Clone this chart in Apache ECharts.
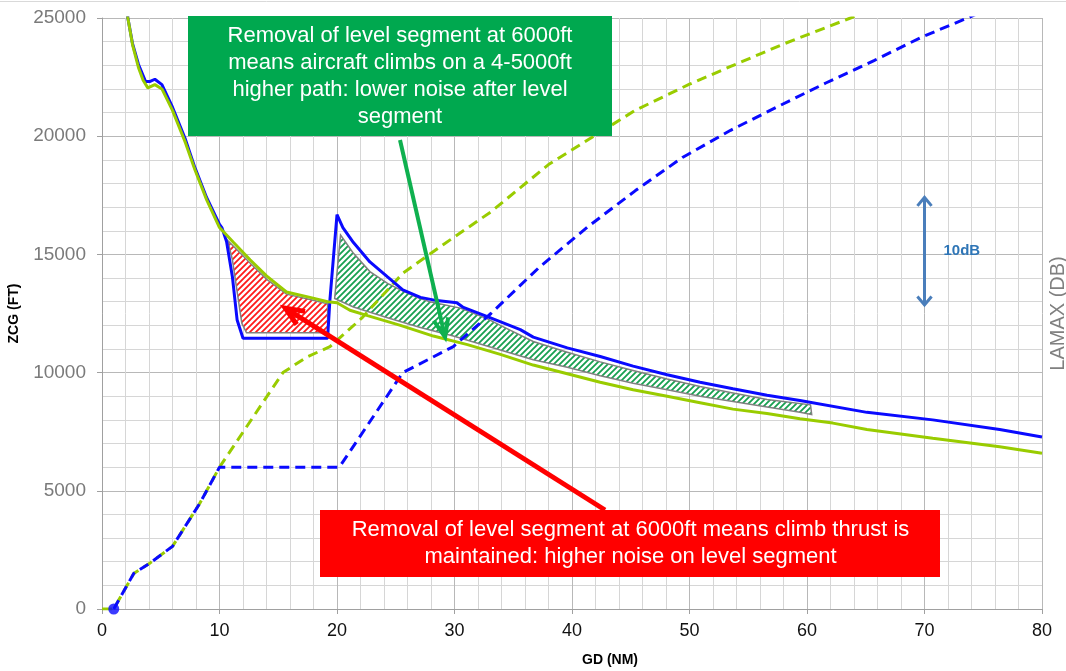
<!DOCTYPE html>
<html>
<head>
<meta charset="utf-8">
<script src="https://cdn.jsdelivr.net/npm/echarts@6/dist/echarts.min.js"></script>
<style>
  html, body { margin: 0; padding: 0; background: #fff; }
  #chart { width: 1066px; height: 671px; }
</style>
</head>
<body>
<div id="chart"></div>
<script>
const FONT = '"Liberation Sans", Arial, Helvetica, sans-serif';

// Axis ranges: ground distance (NM), altitude (ft), LAMAX (dB)
const gdAxis = { min: 0, max: 80, step: 10 };
const zcgAxis = { min: 0, max: 25000, step: 5000 };
const lamaxAxis = { min: 45, max: 100 };

// Altitude profiles [GD nm, ZCG ft]
const climbContinuous = [
  [0, 0], [1, 0], [2.7, 1500], [4.1, 1950], [6.0, 2650], [8.3, 4450], [10.0, 6000],
  [15.4, 10000], [17.4, 10650], [19.4, 11100], [22.1, 12300], [25.6, 14200],
  [29.0, 15400], [33.1, 16800], [38.0, 18800], [45.4, 21100], [50.0, 22200],
  [53.5, 22950], [58.0, 23900], [63.7, 25000], [65.0, 25250]
];
const climbLevelSegment = [
  [1, 0], [2.7, 1500], [4.1, 1950], [6.0, 2650], [8.3, 4450], [10.0, 6000],
  [20.2, 6000], [25.6, 10000], [29.9, 11100], [33.1, 12500], [37.2, 14450],
  [41.3, 16150], [45.4, 17700], [49.4, 19100], [53.5, 20250], [57.5, 21250],
  [61.6, 22250], [65.7, 23200], [69.8, 24200], [73.9, 25050], [75.0, 25300]
];
const brakeRelease = [[1, 0]];

// Noise under the track [GD nm, LAMAX dB]
const lamaxContinuous = [
  [2.0, 102.5], [2.2, 100.0], [2.6, 97.5], [3.1, 95.4], [3.5, 94.2], [3.9, 93.5],
  [4.5, 93.8], [5.1, 93.4], [6.0, 91.4], [7.1, 88.4], [7.9, 85.9], [8.9, 83.1],
  [10.0, 80.5], [11.2, 79.1], [12.6, 77.5], [14.0, 76.0], [15.7, 74.5], [17.7, 74.0],
  [19.2, 73.6], [20.0, 73.5], [21.1, 72.8], [22.6, 72.3], [25.4, 71.4], [28.2, 70.4],
  [31.1, 69.6], [33.9, 68.7], [36.7, 67.7], [39.6, 66.9], [42.4, 66.1], [45.2, 65.4],
  [48.1, 64.8], [50.9, 64.2], [53.7, 63.6], [56.6, 63.2], [59.4, 62.7], [62.2, 62.3],
  [65.1, 61.7], [70.7, 60.9], [76.4, 60.1], [80.0, 59.5]
];
const lamaxLevelSegment = [
  [2.0, 102.5], [2.2, 100.0], [2.6, 97.6], [3.1, 95.7], [3.7, 94.1], [4.1, 94.1],
  [4.5, 94.3], [5.1, 93.8], [6.0, 91.7], [7.1, 88.7], [7.9, 86.1], [8.9, 83.3],
  [10.0, 80.8], [10.2, 80.5], [10.6, 79.2], [11.1, 75.9], [11.5, 71.9], [12.0, 70.2],
  [19.2, 70.2], [19.4, 73.8], [20.0, 81.7], [20.5, 80.5], [21.4, 79.1], [22.8, 77.3],
  [24.3, 75.9], [25.6, 74.7], [27.1, 74.0], [28.5, 73.7], [30.2, 73.5], [30.7, 73.1],
  [32.8, 72.2], [35.6, 71.0], [36.7, 70.3], [39.6, 69.3], [42.4, 68.5], [45.2, 67.6],
  [48.1, 66.8], [50.9, 66.1], [53.7, 65.5], [56.6, 64.9], [59.4, 64.4], [65.1, 63.3],
  [70.7, 62.6], [76.4, 61.7], [80.0, 61.0]
];

// Shaded differences between the two noise curves
const redBandUpper = [[10.7, 79.3], [11.7, 78.2], [12.6, 77.2], [14.0, 75.7], [15.7, 74.3], [17.7, 73.8], [19.2, 73.4]];
const redBandLower = [[11.1, 77.5], [11.9, 71.6], [12.3, 70.7], [19.2, 70.7]];
const greenBandUpper = [
  [20.3, 79.8], [21.4, 78.1], [22.8, 76.4], [24.3, 75.3], [25.4, 74.7], [26.8, 74.0],
  [27.9, 73.6], [30.5, 73.0], [32.8, 72.0], [33.9, 71.4], [36.7, 69.9], [39.6, 68.9],
  [42.4, 68.0], [45.2, 67.2], [48.1, 66.4], [50.9, 65.7], [53.7, 65.1], [56.6, 64.5], [60.3, 64.0]
];
const greenBandLower = [
  [19.8, 73.9], [21.4, 73.1], [24.3, 72.1], [27.1, 71.2], [29.9, 70.4], [33.9, 69.1],
  [36.7, 68.2], [39.6, 67.5], [42.4, 66.7], [45.2, 66.0], [48.1, 65.4], [50.9, 64.8],
  [53.7, 64.3], [56.6, 63.8], [59.4, 63.3], [60.4, 63.1]
];

// Annotation anchors
const greenArrowTip = [29.2, 70.3];
const redArrowTip = [15.6, 73.0];
const scaleBar = { gd: 70, from: 73.3, to: 83.3, label: '10dB' };

const greenNote = 'Removal of level segment at 6000ft\nmeans aircraft climbs on a 4-5000ft\nhigher path: lower noise after level\nsegment';
const redNote = 'Removal of level segment at 6000ft means climb thrust is\nmaintained: higher noise on level segment';

const BLUE = '#0a0aff';
const LIME = '#99cc00';

function hatch(color) {
  const s = 6, c = document.createElement('canvas');
  c.width = c.height = s;
  const g = c.getContext('2d');
  g.fillStyle = '#ffffff';
  g.fillRect(0, 0, s, s);
  g.strokeStyle = color;
  g.lineWidth = 1.8;
  g.beginPath();
  g.moveTo(-1, s + 1); g.lineTo(s + 1, -1);
  g.moveTo(-1, 1); g.lineTo(1, -1);
  g.moveTo(s - 1, s + 1); g.lineTo(s + 1, s - 1);
  g.stroke();
  return c;
}

function bandSeries(upper, lower, color) {
  const outline = upper.concat(lower.slice().reverse());
  const pattern = { image: hatch(color), repeat: 'repeat' };
  return {
    type: 'custom',
    xAxisIndex: 0,
    yAxisIndex: 1,
    z: 1,
    silent: true,
    data: outline,
    renderItem(params, api) {
      if (params.dataIndex !== 0) return;
      return {
        type: 'polygon',
        shape: { points: outline.map(p => api.coord(p)) },
        style: { fill: pattern, stroke: '#808080', lineWidth: 1.5 }
      };
    }
  };
}

const chart = echarts.init(document.getElementById('chart'), null, { renderer: 'canvas' });

const option = {
  backgroundColor: '#ffffff',
  animation: false,
  textStyle: { fontFamily: FONT },
  grid: { left: 102, right: 24, top: 18, bottom: 62, containLabel: false, outerBoundsMode: 'none' },
  xAxis: {
    type: 'value',
    min: gdAxis.min, max: gdAxis.max, interval: gdAxis.step,
    name: 'GD (NM)',
    nameLocation: 'middle',
    nameGap: 44,
    nameTextStyle: { fontSize: 14, fontWeight: 'bold', color: '#000', padding: [0, 0, 0, 76] },
    axisLine: { lineStyle: { color: '#a0a0a0', width: 1 } },
    axisTick: { show: true, length: 5, lineStyle: { color: '#a0a0a0' } },
    axisLabel: { fontSize: 18, color: '#111', margin: 13, formatter: v => String(v) },
    splitLine: { show: true, lineStyle: { color: '#b8b8b8', width: 1 } },
    minorTick: { show: false, splitNumber: 5 },
    minorSplitLine: { show: true, lineStyle: { color: '#d6d6d6', width: 1 } }
  },
  yAxis: [
    {
      type: 'value',
      min: zcgAxis.min, max: zcgAxis.max, interval: zcgAxis.step,
      name: 'ZCG (FT)',
      nameLocation: 'middle',
      nameRotate: 90,
      nameGap: 81,
      nameTextStyle: { fontSize: 14, fontWeight: 'bold', color: '#000' },
      axisLine: { show: true, lineStyle: { color: '#a0a0a0', width: 1 } },
      axisTick: { show: true, length: 5, lineStyle: { color: '#a0a0a0' } },
      axisLabel: { fontSize: 19, color: '#7a7a7a', margin: 16, formatter: v => String(v) },
      splitLine: { show: true, lineStyle: { color: '#b8b8b8', width: 1 } },
      minorTick: { show: false, splitNumber: 5 },
      minorSplitLine: { show: true, lineStyle: { color: '#d6d6d6', width: 1 } }
    },
    {
      type: 'value',
      position: 'right',
      min: lamaxAxis.min, max: lamaxAxis.max,
      name: 'LAMAX (DB)',
      nameLocation: 'middle',
      nameRotate: 90,
      nameGap: 6,
      nameTextStyle: { fontSize: 20, color: '#808080' },
      axisLine: { show: false },
      axisTick: { show: false },
      axisLabel: { show: false },
      splitLine: { show: false }
    }
  ],
  series: [
    bandSeries(redBandUpper, redBandLower, '#ff1a1a'),
    bandSeries(greenBandUpper, greenBandLower, '#17a050'),
    {
      name: 'ZCG continuous climb', type: 'line', xAxisIndex: 0, yAxisIndex: 0,
      data: climbContinuous, showSymbol: false, clip: true, z: 3,
      lineStyle: { color: LIME, width: 3, type: [10, 6] }
    },
    {
      name: 'ZCG level segment', type: 'line', xAxisIndex: 0, yAxisIndex: 0,
      data: climbLevelSegment, showSymbol: false, clip: true, z: 4,
      lineStyle: { color: BLUE, width: 3, type: [10, 6] }
    },
    {
      name: 'LAMAX level segment', type: 'line', xAxisIndex: 0, yAxisIndex: 1,
      data: lamaxLevelSegment, showSymbol: false, clip: true, z: 5,
      lineStyle: { color: BLUE, width: 3 }
    },
    {
      name: 'LAMAX continuous climb', type: 'line', xAxisIndex: 0, yAxisIndex: 1,
      data: lamaxContinuous, showSymbol: false, clip: true, z: 6,
      lineStyle: { color: LIME, width: 3 }
    },
    {
      name: 'Brake release', type: 'scatter', xAxisIndex: 0, yAxisIndex: 0,
      data: brakeRelease, symbol: 'circle', symbolSize: 11, z: 7,
      itemStyle: { color: BLUE }, clip: false
    }
  ]
};

chart.setOption(option);

function toPx(point, yAxisIndex) {
  return chart.convertToPixel({ xAxisIndex: 0, yAxisIndex }, point);
}

// Open V arrowhead at `tip`, pointing away from `from`
function arrowHead(from, tip, len, spread) {
  const a = Math.atan2(tip[1] - from[1], tip[0] - from[0]);
  const p1 = [tip[0] - len * Math.cos(a - spread), tip[1] - len * Math.sin(a - spread)];
  const p2 = [tip[0] - len * Math.cos(a + spread), tip[1] - len * Math.sin(a + spread)];
  return [p1, tip, p2];
}

function arrow(from, tip, color, width, headLen, spread) {
  return [
    { type: 'line', z: 100, shape: { x1: from[0], y1: from[1], x2: tip[0], y2: tip[1] },
      style: { stroke: color, lineWidth: width, lineCap: 'butt' } },
    { type: 'polyline', z: 100, shape: { points: arrowHead(from, tip, headLen, spread) },
      style: { stroke: color, lineWidth: width, fill: null, lineJoin: 'miter', lineCap: 'butt' } }
  ];
}

const gTip = toPx(greenArrowTip, 1);
const rTip = toPx(redArrowTip, 1);
const barTop = toPx([scaleBar.gd, scaleBar.to], 1);
const barBottom = toPx([scaleBar.gd, scaleBar.from], 1);
const barMid = (barTop[1] + barBottom[1]) / 2;

const graphics = [
  { type: 'line', z: 100, shape: { x1: 0, y1: 1.5, x2: 1066, y2: 1.5 }, style: { stroke: '#d9d9d9', lineWidth: 1 } },
  // green note
  { type: 'rect', z: 100, shape: { x: 188, y: 16, width: 424, height: 120 }, style: { fill: '#00a84f' } },
  { type: 'text', z: 101, x: 400, y: 76.5,
    style: { text: greenNote, fill: '#ffffff', font: '22px ' + FONT, align: 'center', verticalAlign: 'middle', lineHeight: 27 } },
  // red note
  { type: 'rect', z: 100, shape: { x: 320, y: 510, width: 620, height: 67 }, style: { fill: '#ff0000' } },
  { type: 'text', z: 101, x: 630.5, y: 543.5,
    style: { text: redNote, fill: '#ffffff', font: '22px ' + FONT, align: 'center', verticalAlign: 'middle', lineHeight: 27 } },
  // scale bar text
  { type: 'text', z: 101, x: barTop[0] + 19, y: barMid,
    style: { text: scaleBar.label, fill: '#2e75b6', font: 'bold 15px ' + FONT, align: 'left', verticalAlign: 'middle' } }
];

graphics.push(...arrow([400, 140], gTip, '#0fb04f', 4, 20, 0.38));
graphics.push(...arrow([605, 510], rTip, '#ff0000', 5, 20, 0.4));
graphics.push(...arrow(barBottom, barTop, '#4a7ebb', 3, 11, 0.7));
graphics.push(...arrow(barTop, barBottom, '#4a7ebb', 3, 11, 0.7).slice(1));

chart.setOption({ graphic: graphics });
</script>
</body>
</html>
